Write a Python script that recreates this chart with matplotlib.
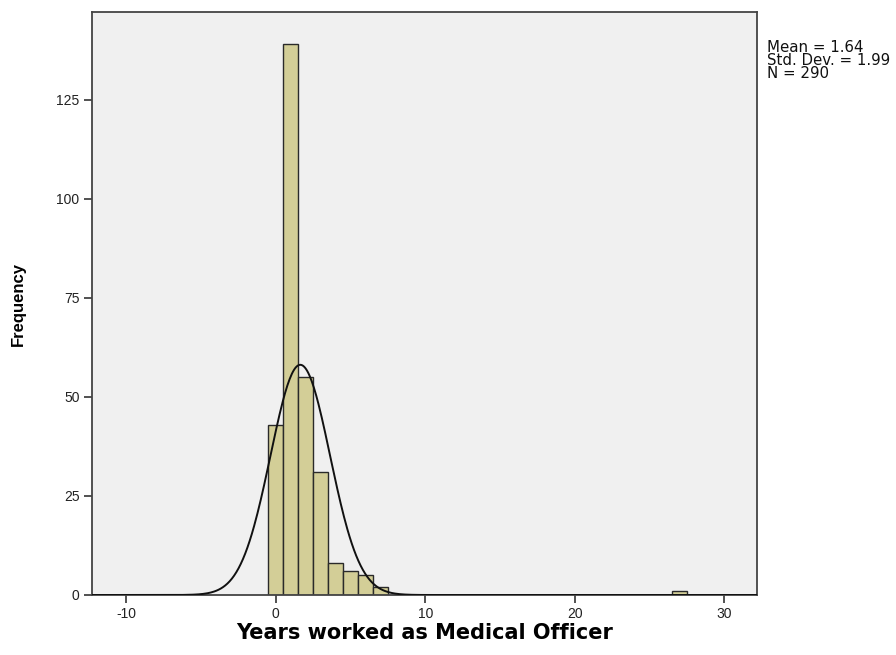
import numpy as np
import matplotlib
matplotlib.use("Agg")
import matplotlib.pyplot as plt

# ---------- data ----------
years = [0, 1, 2, 3, 4, 5, 6, 7, 27]
counts = [43, 139, 55, 31, 8, 6, 5, 2, 1]
xticks = [-10, 0, 10, 20, 30]
yticks = [0, 25, 50, 75, 100, 125]

BAR_COLOR = "#d3ce97"
BG_COLOR = "#f0f0f0"

plt.rcParams["font.family"] = ["Liberation Sans", "DejaVu Sans"]
plt.rcParams["axes.unicode_minus"] = False

years_arr = np.repeat(years, counts)
n = len(years_arr)
mean = years_arr.mean()
sd = years_arr.std(ddof=1)

fig = plt.figure(figsize=(8.96, 6.55), dpi=100)
ax = fig.add_axes([92 / 896, 60 / 655, 665 / 896, 583 / 655])
ax.set_facecolor(BG_COLOR)

ax.bar(years, counts, width=1.0, color=BAR_COLOR, edgecolor="#2a2a2a", linewidth=1.0, zorder=2)

# fitted normal curve (scaled to counts, bin width 1)
xs = np.linspace(-12.3, 32.2, 600)
pdf = n * 1.0 / (sd * np.sqrt(2 * np.pi)) * np.exp(-0.5 * ((xs - mean) / sd) ** 2)
ax.plot(xs, pdf, color="#111111", lw=1.4, zorder=3)

ax.set_xlim(-12.3, 32.2)
ax.set_ylim(0, 147.2)
ax.set_xticks(xticks)
ax.set_yticks(yticks)
ax.tick_params(direction="out", length=6, width=1.2, colors="#333333", labelsize=10,
               labelcolor="#222222", pad=3)

for sp in ax.spines.values():
    sp.set_color("#444444")
    sp.set_linewidth(1.3)

ax.set_xlabel("Years worked as Medical Officer", fontsize=15, fontweight="bold",
              family="DejaVu Sans", labelpad=1)
ax.set_ylabel("Frequency", fontsize=12, fontweight="bold", labelpad=22)

fig.text(767 / 896, 1 - 40 / 655,
         f"Mean = {mean:.2f}\nStd. Dev. = {sd:.2f}\nN = {n}",
         ha="left", va="top", fontsize=10.8, family="DejaVu Sans",
         linespacing=0.85, color="#111111")

fig.savefig("out.png", dpi=100, facecolor="white")
